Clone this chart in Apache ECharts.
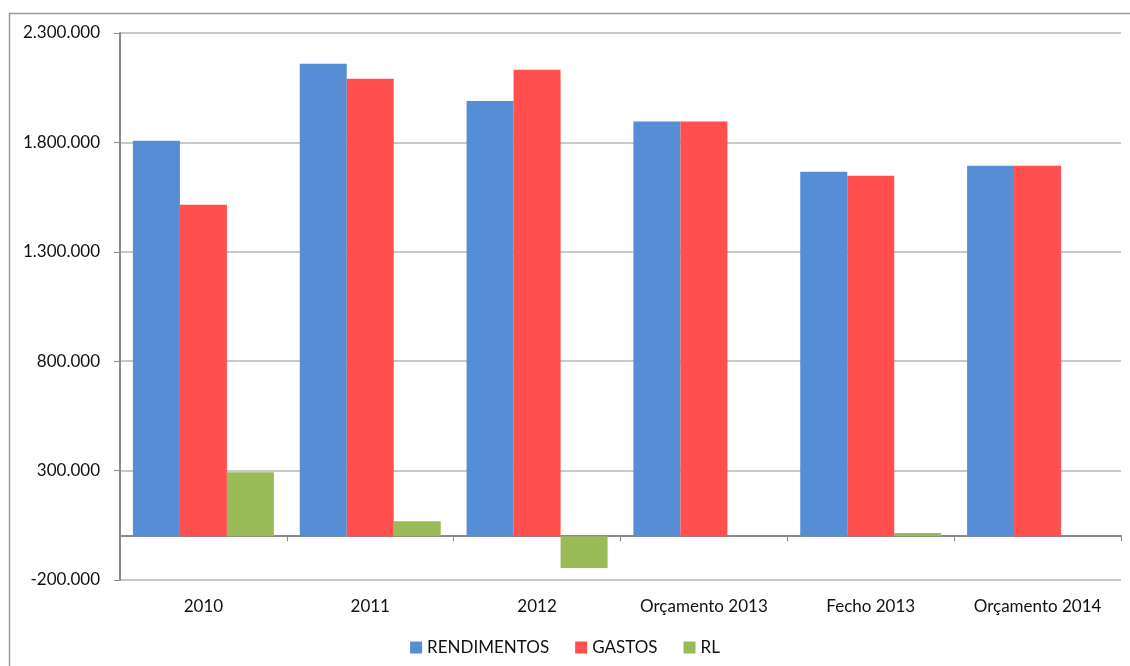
<!DOCTYPE html>
<html>
<head>
<meta charset="utf-8">
<script src="https://cdn.jsdelivr.net/npm/echarts@6/dist/echarts.min.js"></script>
<style>
  html, body { margin: 0; padding: 0; background: #fff; }
  #main { width: 1130px; height: 666px; }
</style>
</head>
<body>
<div id="main"></div>
<script>
const categories = ['2010', '2011', '2012', 'Orçamento 2013', 'Fecho 2013', 'Orçamento 2014']
const rendimentos = [1808000, 2160000, 1989000, 1896000, 1666000, 1693000]
const gastos = [1515000, 2091000, 2132000, 1896000, 1648000, 1693000]
const rl = [293000, 69000, -145000, 0, 15000, 0]

// 2.300.000 style numbers
function fmt(v) {
  const s = String(Math.abs(v)).replace(/\B(?=(\d{3})+(?!\d))/g, '.')
  return v < 0 ? '-' + s : s
}

const chart = echarts.init(document.getElementById('main'))
const font = 'Lato'

const option = {
  animation: false,
  textStyle: { fontFamily: font },
  graphic: [
    {
      type: 'rect',
      shape: { x: 9.5, y: 13.5, width: 1300, height: 800 },
      style: { fill: null, stroke: '#9a9a9a', lineWidth: 1.5 },
      silent: true
    }
  ],
  grid: { left: 120, right: 9, top: 33, bottom: 86 },
  legend: {
    bottom: 5,
    left: 'center',
    itemWidth: 12,
    itemHeight: 12,
    itemGap: 26,
    icon: 'rect',
    textStyle: { fontFamily: font, fontSize: 17, color: '#111' },
    data: ['RENDIMENTOS', 'GASTOS', 'RL']
  },
  xAxis: {
    type: 'category',
    data: categories,
    axisLine: { onZero: true, lineStyle: { color: '#8a8a8a', width: 2 } },
    axisTick: { show: true, length: 5, lineStyle: { color: '#8a8a8a' } },
    axisLabel: { margin: 18, fontSize: 17, color: '#111', fontFamily: font, interval: 0 }
  },
  yAxis: {
    type: 'value',
    min: -200000,
    max: 2300000,
    interval: 500000,
    axisLine: { show: true, lineStyle: { color: '#8a8a8a', width: 2 } },
    axisTick: { show: true, length: 6, lineStyle: { color: '#8a8a8a' } },
    splitLine: { lineStyle: { color: '#b5b5b5', width: 1.5 } },
    axisLabel: { margin: 20, fontSize: 17, color: '#111', fontFamily: font, formatter: fmt }
  },
  series: [
    {
      name: 'RENDIMENTOS',
      type: 'bar',
      data: rendimentos,
      barWidth: 47,
      barGap: '0%',
      itemStyle: { color: '#558ed5' }
    },
    {
      name: 'GASTOS',
      type: 'bar',
      data: gastos,
      barWidth: 47,
      barGap: '0%',
      itemStyle: { color: '#ff4f4f' }
    },
    {
      name: 'RL',
      type: 'bar',
      data: rl,
      barWidth: 47,
      barGap: '0%',
      itemStyle: { color: '#9bbb59' }
    }
  ]
}

chart.setOption(option)
</script>
</body>
</html>
